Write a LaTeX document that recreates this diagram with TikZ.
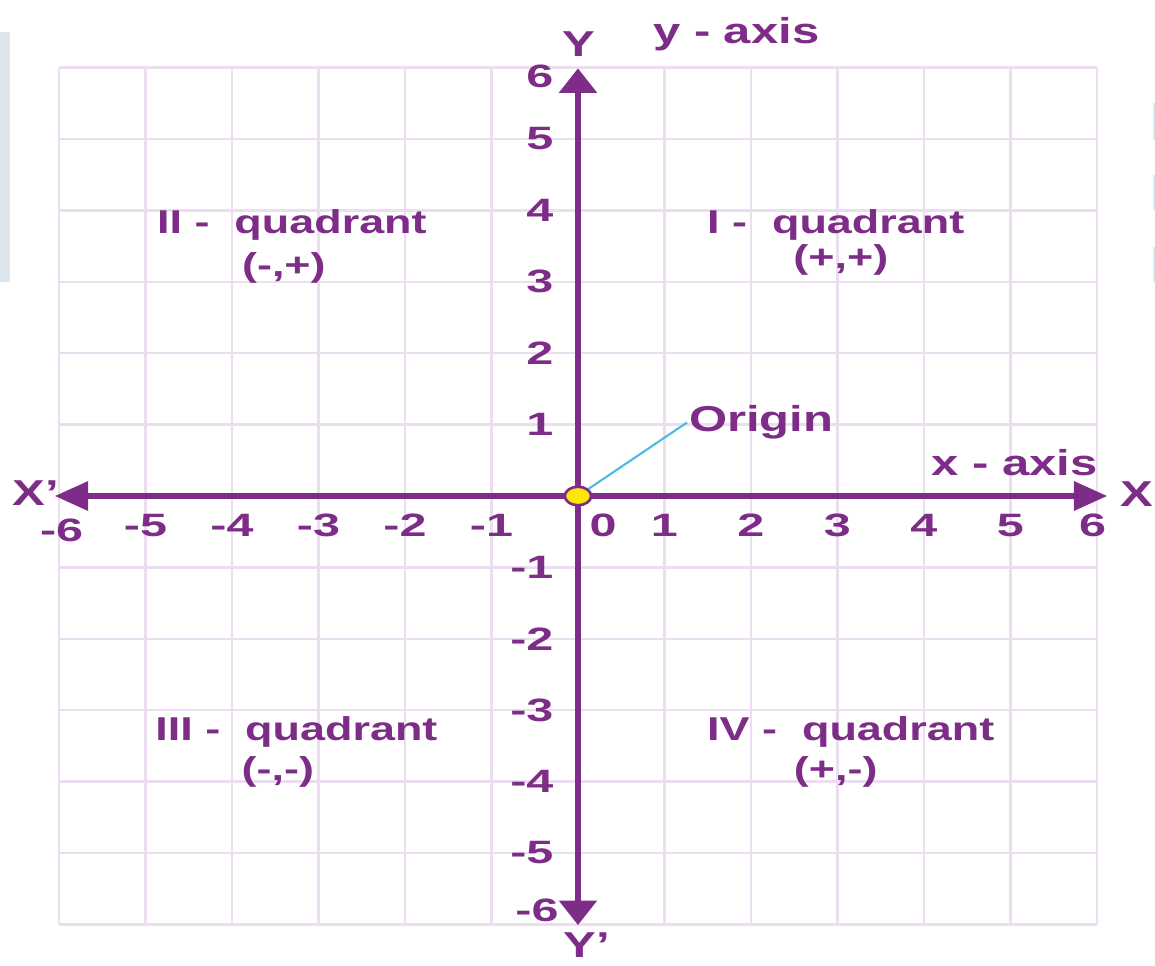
\documentclass[tikz,border=0pt]{standalone}
\usepackage{fontspec}
\newfontfamily\quadfont[FakeStretch=1.36]{Liberation Sans}
\newfontfamily\tickfont[FakeStretch=1.5]{Liberation Sans}
\usepackage{xcolor}
\usepackage{tikz}
\usetikzlibrary{shapes.geometric, arrows.meta, positioning}

\definecolor{axispurple}{RGB}{125,45,135}
\definecolor{gridpurple}{RGB}{236,222,240}
\definecolor{leaderblue}{RGB}{80,185,225}
\definecolor{dotyellow}{RGB}{255,232,0}
\definecolor{panelgray}{RGB}{221,229,237}

\tikzset{
    gridline/.style={draw=gridpurple, line width=1.3pt, xstep=1.73cm, ystep=1.428cm},
    axisx/.style={draw=axispurple, line width=3.4pt,
        {Triangle[length=19pt,width=16pt]}-{Triangle[length=19pt,width=16pt]}},
    axisy/.style={draw=axispurple, line width=3.6pt,
        {Triangle[length=14pt,width=21pt]}-{Triangle[length=14pt,width=21pt]}},
    ticklbl/.style={inner sep=0pt, text=axispurple, font={\tickfont\bfseries\fontsize{18.4pt}{20pt}\selectfont}},
    quadlbl/.style={inner sep=0pt, text=axispurple, font={\quadfont\bfseries\fontsize{18.8pt}{20pt}\selectfont}},
    axislbl/.style={inner sep=0pt, text=axispurple, font={\quadfont\bfseries\fontsize{20.5pt}{22pt}\selectfont}},
    leader/.style={draw=leaderblue, line width=1.2pt}
}

\begin{document}
\begin{tikzpicture}[x=1.73cm, y=1.428cm]
    \useasboundingbox (-6.682,-6.569) rectangle (6.671,6.947);

    % Side panels
    \fill[panelgray] (-6.682,3.00) rectangle (-6.566,6.50);
    \fill[panelgray] (6.647,4.99) rectangle (6.671,5.50);
    \fill[panelgray] (6.647,4.01) rectangle (6.671,4.50);
    \fill[panelgray] (6.647,3.00) rectangle (6.671,3.49);

    % Grid
    \draw[gridline] (-6,-6) grid (6,6);

    % Axes
    \coordinate (XNeg) at (-6.05,0);
    \coordinate (XPos) at (6.12,0);
    \coordinate (YPos) at (0,5.99);
    \coordinate (YNeg) at (0,-6.01);
    \draw[axisx] (XNeg) -- (XPos);
    \draw[axisy] (YNeg) -- (YPos);

    % Axis names
    \node (YLabel) [axislbl, anchor=base] at (0.01,6.15) {Y};
    \node (YAxisLabel) [axislbl, anchor=base] at (1.83,6.34) {y - axis};
    \node (YNegLabel) [axislbl, anchor=base west] at (-0.17,-6.47) {Y’};
    \node (XLabel) [axislbl, anchor=base west] at (6.27,-0.15) {X};
    \node (XNegLabel) [axislbl, anchor=base west] at (-6.54,-0.13) {X’};
    \node (XAxisLabel) [axislbl, anchor=base] at (5.05,0.29) {x - axis};

    % Tick labels
    \foreach \i in {-5,-4,-3,-2,-1,1,2,3,4,5}
        \node (XTick\i) [ticklbl] at (\i,-0.41) {\i};
    \node (XTickZero) [ticklbl] at (0.29,-0.41) {0};
    \node (XTickSix) [ticklbl] at (5.95,-0.41) {6};
    \node (XTickMinusSix) [ticklbl] at (-5.97,-0.48) {-6};
    \foreach \j in {-5,-4,-3,-2,-1,1,2,3,4,5}
        \node (YTick\j) [ticklbl, anchor=east] at (-0.28,\j) {\j};
    \node (YTickSix) [ticklbl, anchor=east] at (-0.28,5.875) {6};
    \node (YTickMinusSix) [ticklbl, anchor=east] at (-0.22,-5.80) {-6};

    % Quadrants
    \node (QuadOne) [quadlbl, anchor=base west] at (1.49,3.68) {I -\ \ quadrant};
    \node (QuadOneSign) [quadlbl, anchor=base] at (3.04,3.19) {(+,+)};
    \node (QuadTwo) [quadlbl, anchor=base west] at (-4.87,3.68) {II -\ \ quadrant};
    \node (QuadTwoSign) [quadlbl, anchor=base] at (-3.40,3.08) {(-,+)};
    \node (QuadThree) [quadlbl, anchor=base west] at (-4.89,-3.42) {III -\ \ quadrant};
    \node (QuadThreeSign) [quadlbl, anchor=base] at (-3.47,-3.99) {(-,-)};
    \node (QuadFour) [quadlbl, anchor=base west] at (1.49,-3.42) {IV -\ \ quadrant};
    \node (QuadFourSign) [quadlbl, anchor=base] at (2.98,-3.99) {(+,-)};

    % Origin
    \node (Origin) [ellipse, draw=axispurple, line width=1.5pt, fill=dotyellow,
        minimum width=15pt, minimum height=10.5pt, inner sep=0pt] at (0,0) {};
    \node (OriginLabel) [axislbl, inner sep=1pt, anchor=base west] at (1.26,0.90) {Origin};
    \draw[leader] (Origin) -- (OriginLabel.west);
\end{tikzpicture}
\end{document}
